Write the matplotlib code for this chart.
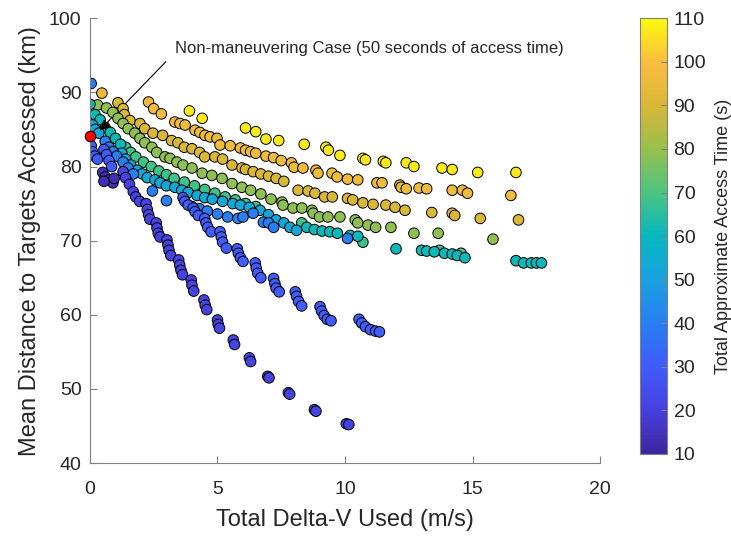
import numpy as np
import matplotlib
matplotlib.use("Agg")
import matplotlib.pyplot as plt
from matplotlib.colors import LinearSegmentedColormap

plt.rcParams['font.family'] = ['Liberation Sans', 'DejaVu Sans']

# parula-like colormap sampled from the colour bar
parula_cols = [(0.24, 0.15, 0.62), (0.28, 0.25, 0.87), (0.25, 0.36, 0.98),
               (0.15, 0.50, 0.95), (0.10, 0.63, 0.88), (0.02, 0.72, 0.75),
               (0.30, 0.77, 0.50), (0.60, 0.75, 0.30), (0.85, 0.72, 0.22),
               (0.98, 0.74, 0.25), (0.98, 0.98, 0.05)]
parula = LinearSegmentedColormap.from_list("parula", parula_cols)

# ---- data: (delta-v, mean distance) per access-time group ----
dark_t = 14
dark_x = [0.5, 0.6, 0.75, 0.9, 0.95, 0.55]
dark_y = [79.2, 78.6, 78.2, 77.8, 78.4, 78.0]

fa_t = 21
fa_x = [1.3, 1.4, 1.55, 1.7, 1.8, 1.95, 2.2, 2.25, 2.3, 2.35, 2.6, 2.63, 2.68, 2.75,
        3.02, 3.06, 3.1, 3.17, 3.48, 3.52, 3.57, 3.63, 3.97, 4.0, 4.07, 4.47, 4.52, 4.58,
        5.0, 5.03, 5.08, 5.62, 5.67, 6.25, 6.3, 6.97, 7.02, 7.78, 7.83, 8.8, 8.86, 10.05, 10.15]
fa_y = [79.3, 78.5, 77.6, 76.6, 75.9, 75.3, 75.0, 74.2, 73.5, 72.9, 72.4, 71.7, 71.0, 70.5,
        70.1, 69.4, 68.7, 68.0, 67.4, 66.7, 66.0, 65.4, 64.7, 64.0, 63.2, 62.0, 61.3, 60.7,
        59.3, 58.7, 58.2, 56.6, 56.0, 54.2, 53.7, 51.7, 51.5, 49.5, 49.3, 47.2, 47.0, 45.3, 45.2]

fb_t = 30
fb_x = [0.05, 0.1, 0.2, 0.3, 0.55, 0.65, 0.75, 0.85,
        3.65, 3.72, 3.85, 4.05, 4.12, 4.25, 4.5, 4.55, 4.62, 4.75, 5.1, 5.15, 5.2, 5.35,
        5.78, 5.82, 5.9, 6.0, 6.48, 6.52, 6.58, 6.7, 7.2, 7.25, 7.3, 7.42,
        8.05, 8.1, 8.18, 8.3, 9.02, 9.08, 9.18, 9.3, 9.45,
        10.55, 10.65, 10.8, 11.0, 11.2, 11.35]
fb_y = [82.8, 82.0, 81.4, 81.0, 82.3, 81.6, 80.8, 80.0,
        75.8, 75.3, 74.8, 74.4, 73.9, 73.4, 73.0, 72.4, 71.8, 71.2, 71.2, 70.5, 69.8, 69.0,
        68.9, 68.3, 67.7, 67.2, 67.0, 66.3, 65.6, 65.0, 64.9, 64.2, 63.6, 63.1,
        63.1, 62.5, 61.8, 61.2, 61.1, 60.5, 59.9, 59.4, 59.2,
        59.4, 58.9, 58.4, 58.0, 57.8, 57.7]

fc_t = 40
fc_x = [0.05, 0.6, 0.75, 0.9, 1.05, 1.3, 1.5, 1.7, 2.45, 3.0, 4.0, 4.3, 4.6, 5.0, 5.4,
        5.8, 6.0, 6.4, 6.8, 7.0, 7.2, 10.1]
fc_y = [91.2, 83.4, 82.6, 82.0, 81.4, 80.6, 79.8, 79.0, 76.7, 75.4, 74.6, 74.3, 74.0, 73.6, 73.2,
        73.0, 73.2, 73.7, 72.5, 72.4, 71.8, 70.3]

fcy_t = 53
fcy_x = [0.1, 0.2, 0.35, 1.25, 1.4, 1.6, 1.85, 2.05, 2.25, 2.55, 2.75, 3.0, 3.33, 3.6, 3.85,
         4.2, 4.5, 4.8, 5.2, 5.6, 5.9, 6.25, 6.67, 7.0, 7.3, 7.6, 7.84, 8.1]
fcy_y = [85.6, 85.0, 84.5, 81.8, 81.0, 80.2, 79.5, 79.0, 78.5, 78.2, 77.8, 77.4, 77.2, 76.8, 76.5,
         76.1, 75.8, 75.6, 75.3, 75.0, 74.8, 74.5, 74.1, 73.5, 72.8, 72.4, 71.8, 71.4]

ft_t = 61
ft_x = [0.0, 0.2, 0.4, 0.6, 0.8, 1.0, 1.2, 8.5, 8.8, 9.1, 9.4, 9.7, 10.2, 10.5, 12.0,
        13.0, 13.2, 13.5, 13.9, 14.2, 14.4, 14.7, 16.7, 17.0, 17.3, 17.5, 17.7]
ft_y = [88.4, 87.0, 86.3, 85.2, 84.6, 83.8, 83.0, 71.8, 71.5, 71.3, 71.2, 71.0, 70.7, 70.6, 68.9,
        68.7, 68.6, 68.5, 68.3, 68.2, 68.0, 67.7, 67.3, 67.0, 67.0, 67.0, 67.0]

fg_t = 68
fg_x = [1.4, 1.6, 1.8, 2.1, 2.4, 2.7, 3.0, 3.3, 3.7, 4.1, 4.5, 4.9, 5.3, 5.7, 6.1,
        6.5, 8.3, 10.7, 13.7, 14.55]
fg_y = [82.6, 81.9, 81.3, 80.6, 80.0, 79.4, 78.9, 78.4, 77.9, 77.4, 76.9, 76.4, 75.9, 75.5, 75.0,
        74.6, 72.4, 69.8, 68.7, 68.3]

fyg_t = 79
fyg_x = [0.3, 0.65, 0.9, 1.1, 1.3, 1.5, 1.76, 1.96, 2.15, 2.43, 2.62, 2.94, 3.14, 3.41, 3.65,
         4.0, 4.4, 4.78, 5.18, 5.57, 5.96, 6.3, 6.7, 7.1, 7.53, 7.57, 7.96, 8.31, 8.7, 8.75,
         9.0, 9.33, 9.8, 10.4, 10.5, 10.9, 11.2, 11.8, 12.7, 13.65, 15.8]
fyg_y = [88.3, 87.9, 87.3, 86.5, 85.8, 85.1, 84.5, 83.8, 83.2, 82.6, 81.9, 81.3, 81.1, 80.6, 80.2,
         79.8, 79.1, 78.8, 78.4, 77.7, 77.2, 76.8, 76.3, 75.6, 75.2, 74.8, 74.4, 74.4, 74.1, 73.7,
         73.2, 73.2, 73.2, 72.8, 72.4, 72.1, 71.8, 71.8, 71.0, 71.0, 70.2]

fo1_t = 90
fo1_x = [1.1, 1.3, 1.35, 1.57, 1.96, 2.15, 2.47, 2.85, 3.2, 3.45, 3.7, 4.0, 4.3, 4.5, 4.9,
         5.2, 5.57, 5.96, 6.1, 6.4, 6.7, 7.0, 7.3, 7.6, 8.16, 8.55, 8.82, 9.2, 9.5, 10.1,
         10.3, 10.7, 11.1, 11.6, 11.96, 12.35, 13.4, 14.2, 14.3, 15.3, 16.8]
fo1_y = [88.6, 87.8, 87.0, 86.2, 85.8, 85.1, 84.5, 84.2, 83.5, 83.2, 82.6, 82.4, 81.9, 81.3, 81.3,
         81.0, 80.2, 79.8, 79.6, 79.3, 79.0, 78.7, 78.4, 78.0, 76.8, 76.7, 76.4, 75.9, 75.9, 75.7,
         75.5, 75.1, 74.9, 74.8, 74.5, 74.1, 73.8, 73.7, 73.4, 73.0, 72.8]

fo2_t = 96
fo2_x = [0.47, 2.3, 2.5, 2.8, 3.33, 3.53, 3.73, 4.12, 4.31, 4.51, 4.71, 4.98, 5.1, 5.5, 5.9,
         6.1, 6.3, 6.5, 6.9, 7.2, 7.5, 7.9, 8.0, 8.35, 8.86, 8.94, 9.49, 9.69, 10.1, 10.5,
         11.25, 11.45, 12.15, 12.2, 12.4, 12.9, 13.2, 14.2, 14.6, 14.8, 16.5]
fo2_y = [89.9, 88.7, 87.8, 87.1, 86.0, 85.8, 85.6, 84.9, 84.6, 84.2, 84.0, 83.8, 82.9, 82.8, 82.5,
         82.2, 82.0, 81.8, 81.4, 81.2, 80.8, 80.5, 79.9, 79.8, 79.5, 79.1, 79.1, 78.6, 78.3, 78.2,
         77.8, 77.8, 77.5, 77.2, 77.0, 77.1, 77.0, 76.8, 76.8, 76.4, 76.1]

fy_t = 107
fy_x = [3.9, 4.4, 6.1, 6.5, 6.9, 7.4, 8.4, 9.25, 9.35, 9.8, 10.7, 10.8, 11.5, 11.6, 12.4,
        12.7, 13.8, 14.2, 15.2, 16.7]
fy_y = [87.5, 86.5, 85.2, 84.7, 83.7, 83.5, 83.0, 82.6, 82.2, 81.5, 81.1, 80.9, 80.7, 80.5, 80.5,
        80.0, 79.8, 79.6, 79.2, 79.2]

nonman_x, nonman_y = 0.0, 84.1

groups = [(fy_x, fy_y, fy_t), (fo2_x, fo2_y, fo2_t), (fo1_x, fo1_y, fo1_t),
          (fyg_x, fyg_y, fyg_t), (fg_x, fg_y, fg_t), (ft_x, ft_y, ft_t),
          (fcy_x, fcy_y, fcy_t), (fc_x, fc_y, fc_t), (fb_x, fb_y, fb_t),
          (fa_x, fa_y, fa_t), (dark_x, dark_y, dark_t)]
xs = np.concatenate([g[0] for g in groups])
ys = np.concatenate([g[1] for g in groups])
cs = np.concatenate([np.full(len(g[0]), g[2]) for g in groups])

fig = plt.figure(figsize=(7.31, 5.36), dpi=100)
ax = fig.add_axes([0.123, 0.136, 0.698, 0.830])
cax = fig.add_axes([0.876, 0.153, 0.036, 0.813])

ink = '#262626'
ax.annotate('', xy=(0.3, 84.6), xytext=(3.05, 94.4),
            arrowprops=dict(arrowstyle='-', color='k', lw=0.8), zorder=1)
sc = ax.scatter(xs, ys, c=cs, cmap=parula, vmin=10, vmax=110, s=58,
                edgecolors='k', linewidths=0.7, zorder=2)
ax.scatter([nonman_x], [nonman_y], c='red', s=58, edgecolors='k', linewidths=0.7,
           zorder=3, clip_on=False)
ax.annotate('', xy=(0.3, 84.6), xytext=(0.8, 86.2),
            arrowprops=dict(arrowstyle='-|>', color='k', lw=0.8, mutation_scale=16), zorder=4)
ax.text(3.33, 95.9, 'Non-maneuvering Case (50 seconds of access time)',
        fontsize=12, color=ink, va='center', ha='left')

ax.set_xlim(0, 20)
ax.set_ylim(40, 100)
ax.set_xticks([0, 5, 10, 15, 20])
ax.set_yticks([40, 50, 60, 70, 80, 90, 100])
for s in ['top', 'right']:
    ax.spines[s].set_visible(False)
for s in ['left', 'bottom']:
    ax.spines[s].set_color('#808080')
    ax.spines[s].set_linewidth(0.8)
ax.tick_params(direction='in', length=5, colors=ink, labelsize=14, width=0.8)
ax.tick_params(axis='both', color='#808080')
ax.tick_params(axis='x', pad=13)
ax.tick_params(axis='y', pad=6)
ax.set_xlabel('Total Delta-V Used (m/s)', fontsize=17, color=ink, labelpad=8)
ax.set_ylabel('Mean Distance to Targets Accessed (km)', fontsize=17, color=ink, labelpad=6)

cb = fig.colorbar(sc, cax=cax, ticks=np.arange(10, 111, 10))
cb.outline.set_edgecolor('#808080')
cb.outline.set_linewidth(0.8)
cax.tick_params(direction='in', length=4, labelsize=14, colors=ink, color='#808080', pad=5)
cb.set_label('Total Approximate Access Time (s)', fontsize=13, color=ink, labelpad=6)

fig.savefig('out.png', dpi=100)
